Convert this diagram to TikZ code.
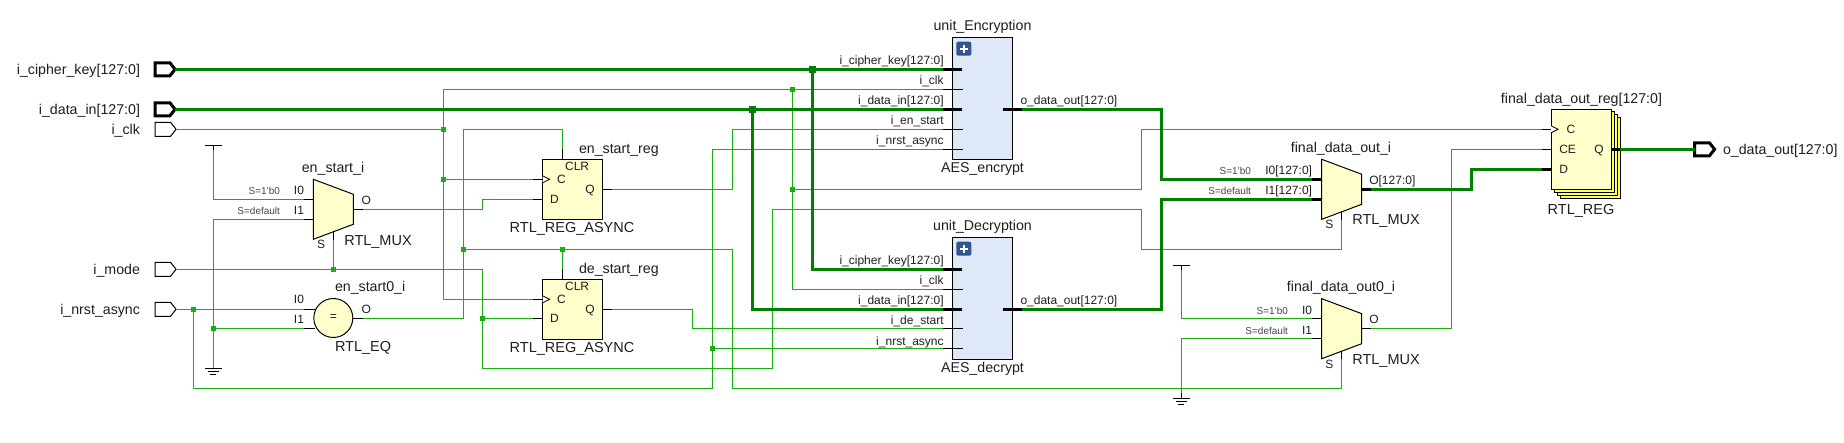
\documentclass[tikz,border=0pt]{standalone}
\usepackage{fontspec}
\setmainfont{Liberation Sans}
\usetikzlibrary{shapes.symbols}
\definecolor{wireg}{RGB}{24,176,16}
\definecolor{busg}{RGB}{0,128,0}
\definecolor{cellf}{RGB}{255,255,204}
\definecolor{stackf}{RGB}{255,255,102}
\definecolor{modf}{RGB}{222,232,246}
\definecolor{plusf}{RGB}{53,85,143}
\definecolor{tx}{RGB}{30,30,30}
\definecolor{txs}{RGB}{70,70,70}
\tikzset{
  x=1pt,y=-1pt,
  every node/.style={inner sep=0pt,outer sep=0pt},
  wire/.style={draw=wireg,line width=1pt},
  bus/.style={draw=busg,line width=3pt},
  stub/.style={draw=black,line width=1pt},
  bstub/.style={draw=black,line width=3pt},
  cell/.style={draw=black,line width=1pt,fill=cellf},
  modbox/.style={draw=black,line width=1pt,fill=modf},
  stackbox/.style={draw=black,line width=1pt,fill=stackf},
  portthin/.style={draw=black,line width=1pt,fill=white,shape=signal,signal to=east,signal pointer angle=103,minimum width=21pt,minimum height=14pt},
  portbus/.style={draw=black,line width=3pt,fill=white,shape=signal,signal to=east,signal pointer angle=103,minimum width=20pt,minimum height=13pt},
  dot/.style={fill=wireg,minimum size=5pt,shape=rectangle},
  bdot/.style={fill=busg,minimum size=7pt,shape=rectangle},
  txa/.style={text=tx,font=\fontsize{14.2}{14}\selectfont},
  txr/.style={text=tx,font=\fontsize{14.5}{14}\selectfont},
  txb/.style={text=tx,font=\fontsize{12}{12}\selectfont},
  txc/.style={text=txs,font=\fontsize{10}{10}\selectfont},
  clkt/.style={draw=black,line width=.8pt,fill=white},
  rail/.style={draw=black,line width=1pt}
}
\newcounter{lbl}
\newcommand\lab[5]{\stepcounter{lbl}\node[#1,anchor=#2] (lbl\arabic{lbl}) at (#3,#4) {#5};}
\newcommand\pinst[5]{\coordinate (#1) at (#3,#4); \draw[#2] (#1) -- ++(#5,0);}
\newcommand\muxcell[3]{%
  \draw[cell] (#2,#3) -- (#2+40,#3+15) -- (#2+40,#3+45) -- (#2,#3+60) -- cycle;
  \coordinate (#1-s) at (#2+20,#3+60.7);
  \draw[stub] (#2+20,#3+52) -- (#1-s);
}
\newcommand\regcell[4]{%
  \node[cell,minimum width=59.7pt,minimum height=60pt,anchor=north west] (#1) at (#2,#3) {};
  \draw[clkt] (#2,#3+16.5) -- (#2+7,#3+20) -- (#2,#3+23.5);
  \lab{txb}{base}{#2+34.5}{#3+11.4}{CLR}
  \lab{txb}{base west}{#2+14.5}{#3+24}{C}
  \lab{txb}{base west}{#2+7.5}{#3+#4+4}{D}
  \lab{txb}{base west}{#2+42.8}{#3+34}{Q}
  \pinst{#1-c}{stub}{#2-9.2}{#3+20}{9.2}
  \pinst{#1-d}{stub}{#2-9.2}{#3+#4}{9.2}
  \pinst{#1-q}{stub}{#2+68.9}{#3+30}{-9.2}
  \coordinate (#1-clr) at (#2+20,#3-10);
  \draw[stub] (#1-clr) -- (#2+20,#3);
}
\newcommand\modcell[3]{%
  \node[modbox,minimum width=59.7pt,minimum height=122pt,anchor=north west] (#1) at (#2,#3) {};
  \node[fill=plusf,rounded corners=2pt,minimum width=15pt,minimum height=14pt] (#1-plus) at (#2+11,#3+11.4) {};
  \draw[white,line width=2pt] (#2+7,#3+11.4) -- (#2+15,#3+11.4) (#2+11,#3+7.4) -- (#2+11,#3+15.4);
}
\newcommand\vccsym[2]{\draw[rail] (#1-8.5,#2) -- (#1+8.5,#2); \draw[rail] (#1,#2) -- (#1,#2+5);}
\newcommand\gndsym[2]{\draw[rail] (#1,#2-5) -- (#1,#2) (#1-8.5,#2) -- (#1+8.5,#2) (#1-5.5,#2+3) -- (#1+5.5,#2+3) (#1-3,#2+6) -- (#1+3,#2+6);}
\begin{document}
\begin{tikzpicture}
\useasboundingbox (0,0) rectangle (1844,443);
\fill[white] (0,0) rectangle (1844,443);
% top level ports
\node[portbus] (pkey) at (162.5,69.3) {};
\node[portbus] (pdata) at (162.5,109.3) {};
\node[portthin] (pclk) at (162.8,129.3) {};
\node[portthin] (pmode) at (162.8,269.3) {};
\node[portthin] (pnrst) at (162.8,309.3) {};
\node[portbus] (pout) at (1702,149.3) {};
\lab{txa}{base east}{140}{74.3}{i\_cipher\_key[127:0]}
\lab{txa}{base east}{140}{114.3}{i\_data\_in[127:0]}
\lab{txa}{base east}{140}{134.3}{i\_clk}
\lab{txa}{base east}{140}{274.3}{i\_mode}
\lab{txa}{base east}{140}{314.3}{i\_nrst\_async}
\lab{txa}{base west}{1723}{154.3}{o\_data\_out[127:0]}
% en_start_i mux
\muxcell{mxa}{313.3}{179.3}
\pinst{mxa-i0}{stub}{304}{199.3}{9.3}
\pinst{mxa-i1}{stub}{304}{219.3}{9.3}
\pinst{mxa-o}{stub}{363}{209.3}{-9.7}
\lab{txa}{base}{333}{172.7}{en\_start\_i}
\lab{txr}{base west}{344.3}{245.3}{RTL\_MUX}
\lab{txb}{base east}{304}{195}{I0}
\lab{txb}{base east}{304}{215}{I1}
\lab{txb}{base west}{361.7}{205}{O}
\lab{txb}{base west}{317}{248.7}{S}
\lab{txc}{base east}{280}{195}{S=1'b0}
\lab{txc}{base east}{280}{215}{S=default}
% en_start0_i comparator
\node[cell,shape=circle,minimum size=39pt] (eq) at (333.3,318) {};
\lab{txb}{center}{333.3}{317.5}{=}
\pinst{eq-i0}{stub}{304}{309.3}{11}
\pinst{eq-i1}{stub}{304}{328.3}{11}
\pinst{eq-o}{stub}{363}{318.3}{-10}
\lab{txa}{base west}{335}{292}{en\_start0\_i}
\lab{txr}{base west}{335}{352}{RTL\_EQ}
\lab{txb}{base east}{304}{304}{I0}
\lab{txb}{base east}{304}{324}{I1}
\lab{txb}{base west}{361.7}{314}{O}
% registers
\regcell{enreg}{542.6}{159.3}{40}
\lab{txa}{base west}{579}{153.3}{en\_start\_reg}
\lab{txr}{base}{572}{232.7}{RTL\_REG\_ASYNC}
\regcell{dereg}{542.6}{279.3}{39}
\lab{txa}{base west}{579}{273.3}{de\_start\_reg}
\lab{txr}{base}{572}{352.7}{RTL\_REG\_ASYNC}
% encrypt
\modcell{enc}{952.8}{37.3}
\lab{txa}{base}{982.5}{30.7}{unit\_Encryption}
\lab{txa}{base}{982.5}{172.7}{AES\_encrypt}
\pinst{enc-key}{bstub}{943}{69.3}{19}
\pinst{enc-clk}{stub}{943}{89.3}{19.5}
\pinst{enc-data}{bstub}{943}{109.3}{19}
\pinst{enc-st}{stub}{943}{129.3}{19.5}
\pinst{enc-rst}{stub}{943}{149.3}{19.5}
\pinst{enc-o}{bstub}{1021.7}{109.3}{-19}
\lab{txb}{base east}{943.6}{65}{i\_cipher\_key[127:0]}
\lab{txb}{base east}{943.6}{85}{i\_clk}
\lab{txb}{base east}{943.6}{105}{i\_data\_in[127:0]}
\lab{txb}{base east}{943.6}{125}{i\_en\_start}
\lab{txb}{base east}{943.6}{145}{i\_nrst\_async}
\lab{txb}{base west}{1020.5}{105}{o\_data\_out[127:0]}
% decrypt
\modcell{dec}{952.8}{237.3}
\lab{txa}{base}{982.5}{230.7}{unit\_Decryption}
\lab{txa}{base}{982.5}{372.7}{AES\_decrypt}
\pinst{dec-key}{bstub}{943}{269.3}{19}
\pinst{dec-clk}{stub}{943}{289.3}{19.5}
\pinst{dec-data}{bstub}{943}{309.3}{19}
\pinst{dec-st}{stub}{943}{328.3}{19.5}
\pinst{dec-rst}{stub}{943}{348.3}{19.5}
\pinst{dec-o}{bstub}{1021.7}{309.3}{-19}
\lab{txb}{base east}{943.6}{265}{i\_cipher\_key[127:0]}
\lab{txb}{base east}{943.6}{285}{i\_clk}
\lab{txb}{base east}{943.6}{305}{i\_data\_in[127:0]}
\lab{txb}{base east}{943.6}{325}{i\_de\_start}
\lab{txb}{base east}{943.6}{345}{i\_nrst\_async}
\lab{txb}{base west}{1020.5}{305}{o\_data\_out[127:0]}
% final_data_out_i
\muxcell{mxb}{1321.7}{159.3}
\pinst{mxb-i0}{bstub}{1311.7}{179.3}{10}
\pinst{mxb-i1}{bstub}{1311.7}{199.3}{10}
\pinst{mxb-o}{bstub}{1371}{189.3}{-9.3}
\lab{txa}{base}{1341}{152.7}{final\_data\_out\_i}
\lab{txr}{base west}{1352.3}{225}{RTL\_MUX}
\lab{txb}{base west}{1325.3}{229}{S}
\lab{txb}{base east}{1312}{175}{I0[127:0]}
\lab{txb}{base east}{1312}{195}{I1[127:0]}
\lab{txb}{base west}{1369.3}{185}{O[127:0]}
\lab{txc}{base east}{1251}{175}{S=1'b0}
\lab{txc}{base east}{1251}{195}{S=default}
% final_data_out0_i
\muxcell{mxc}{1321.7}{298.7}
\pinst{mxc-i0}{stub}{1311.7}{318.3}{10}
\pinst{mxc-i1}{stub}{1311.7}{338.3}{10}
\pinst{mxc-o}{stub}{1371}{328.3}{-9.3}
\lab{txa}{base}{1341}{291.7}{final\_data\_out0\_i}
\lab{txr}{base west}{1352.3}{364.3}{RTL\_MUX}
\lab{txb}{base west}{1325.3}{368}{S}
\lab{txb}{base east}{1312}{314.3}{I0}
\lab{txb}{base east}{1312}{334.3}{I1}
\lab{txb}{base west}{1369.3}{324}{O}
\lab{txc}{base east}{1288}{314.3}{S=1'b0}
\lab{txc}{base east}{1288}{334.3}{S=default}
% final register stack
\draw[stackbox] (1560,118) rectangle (1620.3,198.3);
\draw[stackbox] (1557,115) rectangle (1617.4,195.4);
\draw[stackbox] (1554,112) rectangle (1614.5,192.4);
\node[cell,minimum width=60.7pt,minimum height=80pt,anchor=north west] (fin) at (1551,109.3) {};
\draw[clkt] (1551,125.8) -- (1558,129.3) -- (1551,132.8);
\lab{txa}{base}{1581.5}{103.3}{final\_data\_out\_reg[127:0]}
\lab{txr}{base}{1581}{214.7}{RTL\_REG}
\lab{txb}{base west}{1566.7}{133.3}{C}
\lab{txb}{base west}{1559.3}{153.3}{CE}
\lab{txb}{base west}{1559.3}{173.3}{D}
\lab{txb}{base west}{1594.3}{153.3}{Q}
\pinst{fin-c}{stub}{1541.7}{129.3}{9.3}
\pinst{fin-ce}{stub}{1541.7}{149.3}{9.3}
\pinst{fin-d}{bstub}{1541.7}{169.3}{9.3}
\pinst{fin-q}{bstub}{1620.3}{149.3}{-8.6}
% rails
\coordinate (vcca) at (213.3,145.3);
\coordinate (gnda) at (213.3,368.3);
\coordinate (vccb) at (1181.3,265.3);
\coordinate (gndb) at (1181.3,398.3);
\vccsym{213.3}{145.3}
\gndsym{213.3}{368.3}
\vccsym{1181.3}{265.3}
\gndsym{1181.3}{398.3}
% junctions
\node[dot] (jclka) at (443.4,129.3) {};
\node[dot] (jclkb) at (443.4,179.3) {};
\node[dot] (jclkc) at (792.5,89.3) {};
\node[dot] (jclkd) at (792.5,189.3) {};
\node[dot] (jsta) at (463.7,249.3) {};
\node[dot] (jstb) at (562.5,249.3) {};
\node[dot] (jmoda) at (333.3,269.3) {};
\node[dot] (jmodb) at (482,318.3) {};
\node[dot] (jrsta) at (193.3,309.3) {};
\node[dot] (jrstb) at (712.5,348.3) {};
\node[dot] (jgnd) at (213.3,328.3) {};
\node[bdot] (jkey) at (812.4,69.3) {};
\node[bdot] (jdata) at (752.7,109.3) {};
% thin wires
\draw[wire] (pclk.east) -- (jclka.center);
\draw[wire] (enc-clk) -- (443.4,89.3) -- (jclka.center) -- (jclkb.center) |- (dereg-c);
\draw[wire] (jclkb.center) -- (enreg-c);
\draw[wire] (jclkc.center) |- (dec-clk);
\draw[wire] (jclkd.center) -- (1141.3,189.3) |- (fin-c);
\draw[wire] (mxa-o) -- (482,209.3) |- (enreg-d);
\draw[wire] (eq-o) -| (jsta.center) -- (463.7,129.3) -| (enreg-clr);
\draw[wire] (jsta.center) -- (jstb.center) -- (732.8,249.3) -- (732.8,388.3) -| (mxc-s);
\draw[wire] (jstb.center) -- (dereg-clr);
\draw[wire] (pmode.east) -- (482,269.3) -- (482,368.3) -- (772.6,368.3) -- (772.6,209.3) -- (1141.3,209.3) -- (1141.3,249.3) -| (mxb-s);
\draw[wire] (jmoda.center) -- (mxa-s);
\draw[wire] (jmodb.center) -- (dereg-d);
\draw[wire] (pnrst.east) -- (eq-i0);
\draw[wire] (jrsta.center) |- (712.5,388.3) |- (enc-rst);
\draw[wire] (jrstb.center) -- (dec-rst);
\draw[wire] (enreg-q) -- (732.8,189.3) |- (enc-st);
\draw[wire] (dereg-q) -- (692.6,309.3) |- (dec-st);
\draw[wire] (213.3,150.3) |- (mxa-i0);
\draw[wire] (gnda) -- (213.3,363.3) |- (mxa-i1);
\draw[wire] (jgnd.center) -- (eq-i1);
\draw[wire] (1181.3,270.3) |- (mxc-i0);
\draw[wire] (1181.3,393.3) |- (mxc-i1);
\draw[wire] (mxc-o) -- (1451.7,328.3) |- (fin-ce);
% buses
\draw[bus] (pkey.east) -- (enc-key);
\draw[bus] (jkey.center) |- (dec-key);
\draw[bus] (pdata.east) -- (enc-data);
\draw[bus] (jdata.center) |- (dec-data);
\draw[bus] (enc-o) -- (1161.7,109.3) |- (mxb-i0);
\draw[bus] (dec-o) -- (1161.7,309.3) |- (mxb-i1);
\draw[bus] (mxb-o) -- (1471,189.3) |- (fin-d);
\draw[bus] (fin-q) -- (pout.west);
\end{tikzpicture}
\end{document}
